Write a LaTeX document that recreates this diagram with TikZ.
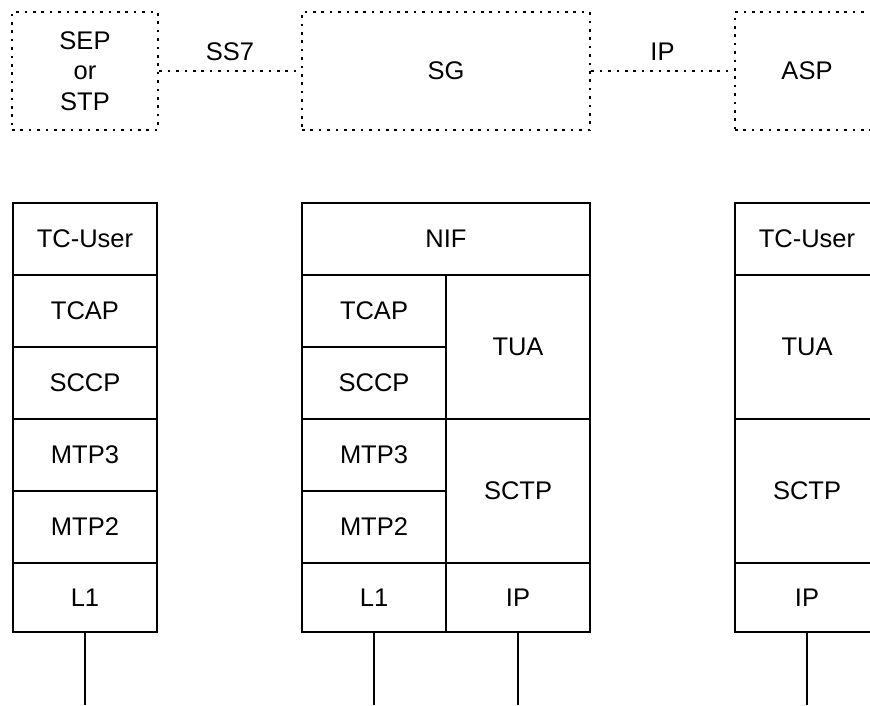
\documentclass[tikz,border=0pt]{standalone}
\usepackage{fontspec}
\setmainfont{Liberation Sans}
\usepackage{tikz}

\tikzset{
    layer/.style = {draw, line width=2pt, minimum width=144pt, minimum height=72pt, inner sep=0pt},
    dotbox/.style = {draw, line width=2.6pt, dash pattern=on 2.6pt off 5.8pt, minimum height=118pt, inner sep=0pt, align=center},
    dotlink/.style = {line width=2.6pt, dash pattern=on 2.6pt off 5.8pt},
    wire/.style = {line width=2pt},
    linklabel/.style = {above=9pt, inner sep=0pt}
}

\begin{document}
\begin{tikzpicture}[x=1pt, y=-1pt, font=\fontsize{25.5}{30.5}\selectfont]
    \useasboundingbox (0, 0) rectangle (870, 705);

    % network elements
    \node[dotbox, minimum width=146pt] (sep) at (85, 71) {SEP\\or\\STP};
    \node[dotbox, minimum width=288pt] (sg) at (446, 71) {SG};
    \node[dotbox, minimum width=144pt] (asp) at (807, 71) {ASP};

    \draw[dotlink] (sep.east) -- node[linklabel]{SS7} (sg.west);
    \draw[dotlink] (sg.east) -- node[linklabel]{IP} (asp.west);

    % SEP / STP stack
    \node[layer] (luser) at (85, 239) {TC-User};
    \node[layer] (ltcap) at (85, 311) {TCAP};
    \node[layer] (lsccp) at (85, 383) {SCCP};
    \node[layer] (lmtp3) at (85, 455) {MTP3};
    \node[layer] (lmtp2) at (85, 527) {MTP2};
    \node[layer, minimum height=69pt] (ll1) at (85, 597.5) {L1};

    % SG stack
    \node[layer, minimum width=288pt] (mnif) at (446, 239) {NIF};
    \node[layer] (mtcap) at (374, 311) {TCAP};
    \node[layer] (msccp) at (374, 383) {SCCP};
    \node[layer] (mmtp3) at (374, 455) {MTP3};
    \node[layer] (mmtp2) at (374, 527) {MTP2};
    \node[layer, minimum height=69pt] (ml1) at (374, 597.5) {L1};
    \node[layer, minimum height=144pt] (mtua) at (518, 347) {TUA};
    \node[layer, minimum height=144pt] (msctp) at (518, 491) {SCTP};
    \node[layer, minimum height=69pt] (mip) at (518, 597.5) {IP};

    % ASP stack
    \node[layer] (ruser) at (807, 239) {TC-User};
    \node[layer, minimum height=144pt] (rtua) at (807, 347) {TUA};
    \node[layer, minimum height=144pt] (rsctp) at (807, 491) {SCTP};
    \node[layer, minimum height=69pt] (rip) at (807, 597.5) {IP};

    % links down
    \coordinate (lend) at (85, 705);
    \coordinate (mend1) at (374, 705);
    \coordinate (mend2) at (518, 705);
    \coordinate (rend) at (807, 705);
    \draw[wire] (ll1.south) -- (lend);
    \draw[wire] (ml1.south) -- (mend1);
    \draw[wire] (mip.south) -- (mend2);
    \draw[wire] (rip.south) -- (rend);
\end{tikzpicture}
\end{document}
